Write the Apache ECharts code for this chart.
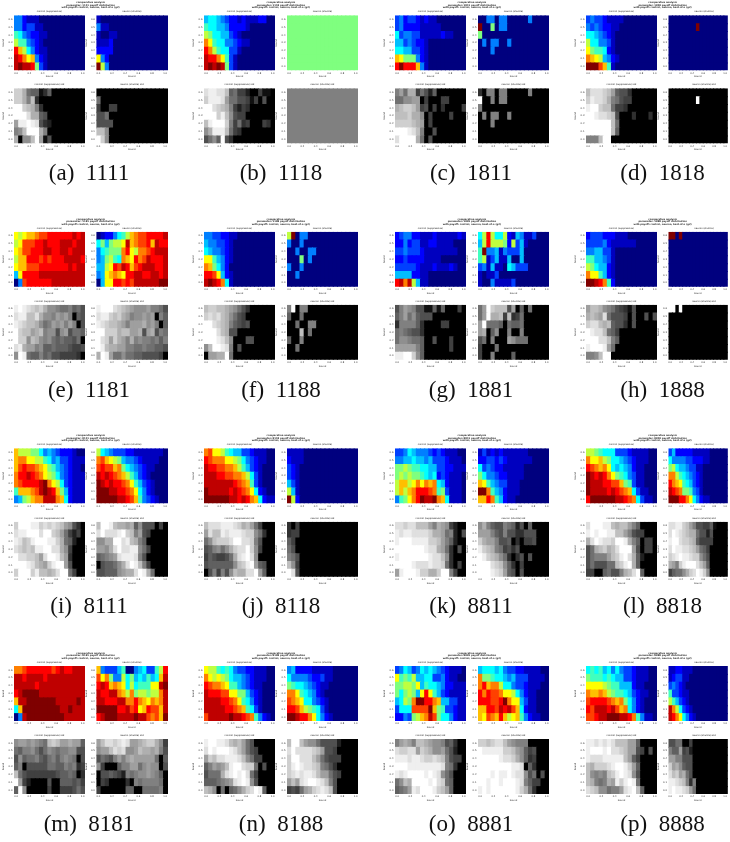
<!DOCTYPE html>
<html><head><meta charset="utf-8">
<style>html,body{margin:0;padding:0;background:#fff}#c{width:730px;height:842px;filter:blur(0.4px)}</style>
<script src="https://cdn.jsdelivr.net/npm/echarts@6/dist/echarts.min.js"></script>
</head><body><div id="c"></div>
<script>
// Cell levels are base-17 digits (0..g = 0..1), rows top to bottom, trailing zeros omitted.
const codes=["1111","1118","1811","1818","1181","1188","1881","1888","8111","8118","8811","8818","8181","8188","8881","8888"];
const letters=["a","b","c","d","e","f","g","h","i","j","k","l","m","n","o","p"];
const xTicks=[0,0.2,0.4,0.6,0.8,1];
const yLabels=["0.6","0.5","0.4","0.3","0.2","0.1","0.0"];
const a_j1=["442111","4423311","76432211","9774321","eb964211","fecab421","fgffe831"];
const a_j2=["1","411","10011","1112","2222","a42","g94"];
const a_g1=["ddb766136","ddb8c3","ggdcb83","gggebb65","affgfe532","89cgggb8","b099cga15"];
const a_g2=["","7","40044","557","5555","cc9","gd9"];
const b_j1=["566543221211122","76655422221","98665532 1","ca766443211","ec976633 1","feeca731","fgfgf831"];
const b_j2=["88888888888888888","88888888888888888","88888888888888888","88888888888888888","88888888888888888","88888888888888888","88888888888888888"];
const b_g1=["effeec6744200411","dfffea775541405","ggedcb84243","gggdfc95440","cfgggd8473400043","9bfffc743","5796g53"];
const b_g2=b_j2;
const c_j1=["34233212110","34222211111","63443311111211","55343221","66553321","ba88842 1","egeeeb41"];
const c_j2=["0044044000004","g008044","8","04044004","0004","",""];
const c_g1=["8a7bb47526","7799aa0400 044","bcddca4504030000 4","cccdbb904000 04","ddddcba04","gggfec8005","eggggb705"];
const c_g2=["3088088000008","g008088","8","08088008","0008","",""];
const d_j1=["34332111 1","4343221 1","665432 1","966443 1","a87762 1","cba95421","gggdb71"];
const d_j2=["","00000000g","","","","",""];
const d_g1=["ceeedca6553","dfeedb8754 4","fggdcc7443","ggfeedc500030003","ggggggc7","ggggggc6","888cgg"];
const d_g2=d_j2;
const e_j1=["a9abbcddeeeeeefef","9adddeefeeefffeff","abddeeeffeeffefff","9bbeeededeeeffffe","abbdddeeeeeeefeff","5aeeeefffffffffff","04deeeeeeffffffff"];
const e_j2=["01224679bcddeeeef","685899afbcddebfee","46788 8cea9ccdefff","45897 6cbaecdfeeef","559aedfebdefffeef","45abcbaeeffeeffef","05aaeededffffffgg"];
const e_g1=["fgfedcdb998778675","effcceb998a9a80 65","fedccb978a9a8a805","gdccabc899 59a5776","gdd9cb98976766 57","efbaa8966766654 45","9gf7668675544 4430"];
const e_g2=["fgggedcba999a8875","effdcdba899a9a086","fedccba8aaab9a806","ggdddbccaab5ab587","gedadba8b8988786 8","gfcbbaa88778776 65","bgfa7797766555540"];
const f_j1=["44332211","5443321","6544321","aa75421","cb8642","eeda521","fgfec61"];
const f_j2=["9g044","4004","0040044","000804","4004","004",""];
const f_g1=["cddccba975 3","dedecb9754","ggedcb86545","gggecb55","gggfec900055","9cggfe805","0aabbg7"];
const f_g2=["8g088","6007","0070088","000c07","6008","007",""];
const g_j1=["23442211121111121","224233 1122111 1","334333211111111","2232222 1111","3333321 1 1 2 1112 1","5555221 1","efcf951 1"];
const g_j2=["69e96 692154113","59e99982935 1","7g4451 43335","791351150 05","3415110653 33","10113","10041111 3"];
const g_g1=["58a9855 116160004","68a796555","388886300004 4","7876553","7998776 0050004","aaaaa86000000 4","ffggd96"];
const g_g2=["7agdccc5a0607","7agbbc4c347","ag7776076 67","ab0690080 08","570800 0a9777","40007","400800006"];
const h_j1=["233322 21 11","33334211 1111","445533 1","775543 1","986552 1","caa7521","ggfec72"];
const h_j2=["gg0g","","","","","",""];
const h_g1=["accb98754315","bcbae7555405005 05","deecbc65 53 05","gfeec764","gggeec86","fgggfa7","889cgg"];
const h_g2=h_j2;
const i_j1=["b9998864543222100","bccaa997645332111","bdeddcba875 432110","ceefedca986 432111","cdeeeefgca9632111","7bbbcdfgfeb852111","4589bccfffcb62111"];
const i_j2=["965433322 1111111","cdba985443211 11","deddbc86543211","fefedcb975321","gfefeedca75321","gggffeedca6421","gggggffedb74321"];
const i_g1=["dgggffdededca9530 0","effggge ggdca74240","fecdfgggffdb76200","edcdcffggeeb94000","geeddcaeggfca3000","gggfecbadfgga50 00","dgggdfccbcegg7400"];
const i_g2=["cggfcbbab695550 40","egeeefgdc8a540000","99bbggefcb860 00","aa9begeeff974 0","6789aefffe850","05667 9begfc8400","55666 9abbegfb7000"];
const j_j1=["cdaa97655 33211 1","edcccaa98643211","feeddccb975321","fffeeddccb9631","fffffffedcb731","gfffffefedca621","ggggggffefecb6211"];
const j_j2=["1111","2111","321","321","531","951","g92"];
const j_g1=["ceeefffedbca74000","aecc fefffedd97300","79cdddeggeed85000","5689 79bdeegd94000","46544 57befge90000","56666669cdfga6500","0584 859cbbeega600"];
const j_g2=["304","344","64","75","875","c94","ge5"];
const k_j1=["33465444 32321110","44556554 53332111","889877665 53322111","898988 76562321110","9bb9acacbc6521110","9b9bceeedc7831110","478aceg ffgcb61110"];
const k_j2=["13121211111100","22332321111110","63432211111","86443221111","ba754 3311 1","ggc75 42111","bbec75211"];
const k_g1=["eedeecc ca8ba94200","feffeeeedbba78205","fgggffffddca86200","ggggggg feeba73050","fgggggggfeec 9300","ggggfeeefeed73040","afgggfddbbdgg8400"];
const k_g2=["9b86558762 5060","aaa8658553 3555","dbaa8556030445","fdcb874535","gfdcb97303505","ggged c963040","gggfeda650 5"];
const l_j1=["99876663 332111 1","caab98665432111","edcbca656 54211","gfefeca87 64311","gfffeeddb87311","gffffefedcb6311","egggggg ffedc6311"];
const l_j2=["35222221 1111","64444 33222 11","89655433 11","cc976543 21","ecba76532 1","fedc8874 31","ggge eca6 4211"];
const l_g1=["egggffcbcca86000","fgfggffcca85440 0","begfeedggfb860440","57bcdbceggga50440","5788 8acdfgeb620","5755 577cdfgb600","4400 6755 8bceg600"];
const l_g2=["eeffdca85544610","egfedcbb75525 0","fggeddcb64444 0","egffeedca7640","defgffedd9750","ba8dfggge ca60","46779bdegfd90"];
const m_j1=["ccdeeeeeedefeefff","ffeffffefffffffff","fffffefffffffffff","efggggfffffffffff","bffgggggggfffffgf","6bgggggggggffgfff","04fggggggggg fffff"];
const m_j2=["b4333570045633 79e","dac84496856 5756bf","efebcba69677 7aafg","feeffcb9c899899cf","ffeeeffccecbacbcf","ggggg eefdeabeddbf","efgggffffgffdcdbg"];
const m_g1=["9aa9a987cdcaabaa6","76889 7579878899 55","59677865786 89870 5","680555 5577668 7834","c75444444456 67603","ga4200005006 66564","6g9000004004445 75"];
const m_g2=["aceedefeaabcddb94","9aacede99acbbab85","57658a8abaaaaa706","940006 88aa79a9905","0556 5 4287899a9860","0430000 3087888870","40000006600777780"];
const n_j1=["a99767643322111","ca9a986554321 11","edccba775 43211","feeeddaa88532 1","ffffeedca76421","fffffeedcb7631","dfffffgffedc74 21"];
const n_j2=["452222111 110","64444322 311","8766543211","cca76542 1","dcba664321","eedb98763 1","ggfeeca6421"];
const n_g1=["fggffecbca75000","egfgggfeca75400","adceefffec974 4","68a9acfggedd7050","5777befgfge74","66678 9aefgf95","cb907067 9bdegf60"];
const n_g2=["cggca99755552 0","egeeeedca55400","dggeeeca754440","dfgfeedc8753 0","defeffecaa7540","aca efggfec850","454 7abdefec50"];
const o_j1=["3465346565432111","a787955663342110","889 98a5766542211 1","8689 85aea75321111","5698 cggeecb553311","36 66ddddgb873321 1","2243 89bcfd866421 1"];
const o_j2=["56665643322111100","c887665453331111","cebcc966433211 1","eceddcaa96421 1","eeeddegcaa531 1","bbeed fefdb621 1","badcbeb9ab74211"];
const o_g1=["8aba8ccba998563","eddeeadcb99a7520","fffeffeddedc85440","gggffffffffe87300","fefggggfgfe97500","79cbggggfged760","678afeg ggfdca60"];
const o_g2=["ddcdeeca98880","gfffffddca96450","gggggfeedb96340","ggggggggffe06300","gggfgffgfee957050","ggfggfgggfe86440","fgfggggggfdb730"];
const p_j1=["6767564643321110","877767655 33211 1","aaaa987755521 1","cbbcb98776532 11","deeeedcbc86421","edfffefdbc64 21","ddeffgggffec7411"];
const p_j2=["1122111","123 311","34321","73321 1","975321","fc96321","fec a6421"];
const p_g1=["ffefefecccaa6000","fgggfgeedcaa54050","feeefffffca640 0","cbddde fgg fda60","c9898cdfgfe950","cb878bafdfgf70","edc99788aefgc60"];
const p_g2=["5577004","866a452","aa88555","dab9655","ecdab75","ffedc838","fgffeda7"];
const panels=[
[a_j1,a_j2,a_g1,a_g2],[b_j1,b_j2,b_g1,b_g2],[c_j1,c_j2,c_g1,c_g2],[d_j1,d_j2,d_g1,d_g2],
[e_j1,e_j2,e_g1,e_g2],[f_j1,f_j2,f_g1,f_g2],[g_j1,g_j2,g_g1,g_g2],[h_j1,h_j2,h_g1,h_g2],
[i_j1,i_j2,i_g1,i_g2],[j_j1,j_j2,j_g1,j_g2],[k_j1,k_j2,k_g1,k_g2],[l_j1,l_j2,l_g1,l_g2],
[m_j1,m_j2,m_g1,m_g2],[n_j1,n_j2,n_g1,n_g2],[o_j1,o_j2,o_g1,o_g2],[p_j1,p_j2,p_g1,p_g2]];
const jet=['#00007f','#0000ff','#007fff','#00ffff','#7fff7f','#ffff00','#ff7f00','#ff0000','#7f0000'];
const gridColsX=[[14,96.4],[204,287],[395,478],[586,668.5]];
const rowsY=[[15.3,88.3],[231.7,304.7],[448.3,521.7],[666,739]];
const capCX=[89,281,471,662.5], capCY=[174,391,607,825];
const cw=70.8, ch=55, NC=17, NR=7;
const subT=["control (suppressive)","neuron (shuttle)","control (suppressive) std","neuron (shuttle) std"];
const yPos=yLabels.map((_,i)=>i);
const decode=s=>{const out=[];s.forEach((r0,y)=>{const r=r0.replace(/[^0-9a-g]/g,'').padEnd(NC,'0').slice(0,NC);
  for(let x=0;x<NC;x++)out.push([x/(NC-1),y,parseInt(r[x],17)]);});return out;};
const tiny={fontSize:2.4,color:'#333',fontFamily:'DejaVu Sans'};
const grid=[],xAxis=[],yAxis=[],series=[],graphic=[];
const jetIdx=[],grayIdx=[];
const text=(x,y,t,font,col)=>graphic.push({type:'text',x,y,silent:true,style:{text:t,font,fill:col||'#222',textAlign:'center',textVerticalAlign:'middle'}});
const cell=(params,api)=>{
  const c=api.coord([api.value(0),api.value(1)]);
  const s=api.size([1/(NC-1),1]);
  // each cell runs 1px under its right and lower neighbours, so no seam is left; the series clip trims the edge
  return {type:'rect',shape:{x:c[0]-s[0]/2,y:c[1]-s[1]/2,width:s[0]+1,height:s[1]+1},style:{fill:api.visual('color')}};
};
panels.forEach((p,pi)=>{
  const pc=pi%4,pr=Math.floor(pi/4);
  const midX=(gridColsX[pc][0]+gridColsX[pc][1]+cw)/2;
  const ty=rowsY[pr][0];
  text(midX,ty-12.8,"comparative analysis","bold 2.4px 'DejaVu Sans'");
  text(midX,ty-10.2,"parameter: "+codes[pi]+" payoff distribution","bold 2.4px 'DejaVu Sans'");
  text(midX,ty-7.8,"with payoff: control, neuron, best-of-n (g2)","bold 2.4px 'DejaVu Sans'");
  text(capCX[pc],capCY[pr],"("+letters[pi]+")\u00a0\u00a0"+codes[pi],"23px 'Liberation Serif'","#111");
  p.forEach((rows,k)=>{
    const g=grid.length;
    const left=gridColsX[pc][k%2], top=rowsY[pr][k<2?0:1];
    grid.push({left,top,width:cw,height:ch,show:false});
    text(left+cw/2,top-3.8,subT[k],"2.4px 'DejaVu Sans'");
    xAxis.push({type:'value',gridIndex:g,min:-1/32,max:1+1/32,position:'bottom',name:'bound',nameLocation:'middle',nameGap:5.5,
      nameTextStyle:tiny,splitLine:{show:false},axisLine:{show:false},
      axisTick:{show:true,length:0.8,lineStyle:{width:0.3,color:'#555'},customValues:xTicks},
      axisLabel:{margin:1.6,...tiny,customValues:xTicks,formatter:v=>v.toFixed(1)}});
    yAxis.push({type:'value',gridIndex:g,min:-0.5,max:6.5,inverse:true,name:'bound',nameLocation:'middle',nameGap:7,
      nameTextStyle:tiny,splitLine:{show:false},axisLine:{show:false},
      axisTick:{show:true,length:0.8,lineStyle:{width:0.3,color:'#555'},customValues:yPos},
      axisLabel:{margin:1.6,...tiny,customValues:yPos,formatter:v=>yLabels[v]}});
    (k<2?jetIdx:grayIdx).push(series.length);
    series.push({type:'custom',xAxisIndex:g,yAxisIndex:g,data:decode(rows),encode:{x:0,y:1},renderItem:cell,clip:true,silent:true,animation:false});
  });
});
const chart=echarts.init(document.getElementById('c'),null,{renderer:'canvas'});
chart.setOption({animation:false,backgroundColor:'#fff',grid,xAxis,yAxis,series,graphic,
  visualMap:[
    {type:'continuous',show:false,min:0,max:16,dimension:2,seriesIndex:jetIdx,inRange:{color:jet}},
    {type:'continuous',show:false,min:0,max:16,dimension:2,seriesIndex:grayIdx,inRange:{color:['#000000','#ffffff']}}
  ]});
</script></body></html>
